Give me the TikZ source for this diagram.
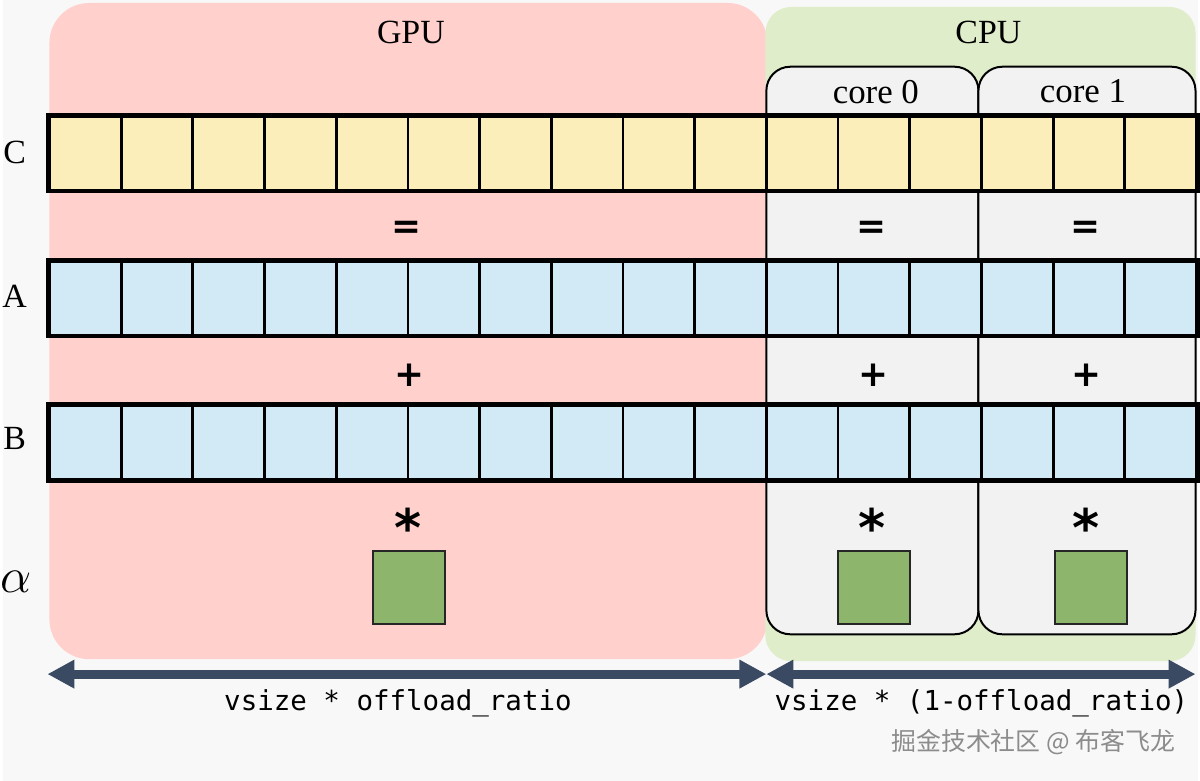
\documentclass[tikz,border=0pt]{standalone}
\usepackage{fontspec}
\setmainfont{Liberation Serif}
\newfontfamily\codefont{DejaVu Sans Mono}
\newfontfamily\opfont{DejaVu Sans}
\newfontfamily\cjkfont{Noto Sans CJK SC}
\usetikzlibrary{arrows.meta,positioning,calc}

\definecolor{pagegray}{HTML}{F8F8F8}
\definecolor{gpupink}{HTML}{FFD0CC}
\definecolor{cpugreen}{HTML}{DFEDCB}
\definecolor{coregray}{HTML}{F2F2F2}
\definecolor{vecyellow}{HTML}{FBEEBA}
\definecolor{vecblue}{HTML}{D1EAF5}
\definecolor{alphagreen}{HTML}{8DB56B}
\definecolor{spanblue}{HTML}{3A4A62}

\begin{document}
\begin{tikzpicture}[
  x=0.5pt, y=-0.5pt,
  corebox/.style={
    draw=black,
    fill=coregray,
    line width=1pt,
    rounded corners=12pt
  },
  cell/.style={
    draw=black,
    line width=1.4pt,
    minimum width=36pt,
    minimum height=37pt,
    inner sep=0pt
  },
  scalar/.style={
    draw=black!85,
    fill=alphagreen,
    line width=1pt,
    minimum width=36pt,
    minimum height=36.5pt,
    inner sep=0pt
  },
  title/.style={font=\fontsize{17}{19}\selectfont},
  corelabel/.style={font=\fontsize{17.5}{19}\selectfont},
  rowlabel/.style={font=\fontsize{17}{19}\selectfont, inner sep=0pt},
  op/.style={font=\opfont\bfseries\fontsize{18}{20}\selectfont, inner sep=0pt},
  star/.style={font=\opfont\bfseries\fontsize{26}{28}\selectfont, inner sep=0pt},
  sizelabel/.style={font=\codefont\fontsize{13.8}{15}\selectfont, inner sep=0pt},
  span/.style={
    {Triangle[length=13.5pt,width=13.5pt]}-{Triangle[length=13.5pt,width=13.5pt]},
    draw=spanblue, line width=4.5pt
  }
]

\fill[pagegray] (0,0) rectangle (1200,784);

% devices
\fill[gpupink, rounded corners=20pt] (47,3) rectangle (768,662);
\fill[cpugreen, rounded corners=13pt] (766,7) rectangle (1198,664);
\draw[corebox] (767,67) rectangle (980,637);
\draw[corebox] (980,67) rectangle (1198,637);

\node[title] (gpu) at (410,33) {GPU};
\node[title] (cpu) at (990,33) {CPU};
\node[corelabel] (core0) at (877,92) {core 0};
\node[corelabel] (core1) at (1085,92) {core 1};

% vectors C, A, B
\foreach \i in {1,...,16} {
  \node[cell, fill=vecyellow] (c\i) at ({47+72*(\i-0.5)},154) {};
  \node[cell, fill=vecblue] (a\i) at ({47+72*(\i-0.5)},299.5) {};
  \node[cell, fill=vecblue] (b\i) at ({47+72*(\i-0.5)},444.5) {};
}
\draw[line width=1.9pt] (c1.north west) rectangle (c16.south east);
\draw[line width=1.9pt] (a1.north west) rectangle (a16.south east);
\draw[line width=1.9pt] (b1.north west) rectangle (b16.south east);

\node[rowlabel] (labelC) at (12,153) {C};
\node[rowlabel] (labelA) at (12,298) {A};
\node[rowlabel] (labelB) at (12,440) {B};
\node[rowlabel, font=\fontsize{25}{27}\selectfont] (labelAlpha) at (13,584) {$\alpha$};

% operators
\node[op] (eqGpu) at (406,231) {=};
\node[op] (eqCore0) at (873,231) {=};
\node[op] (eqCore1) at (1088,231) {=};
\node[op] (plusGpu) at (409,377) {+};
\node[op] (plusCore0) at (875,377) {+};
\node[op] (plusCore1) at (1089,377) {+};
\node[star] (mulGpu) at (407,530) {*};
\node[star] (mulCore0) at (873,530) {*};
\node[star] (mulCore1) at (1088,530) {*};

% alpha
\node[scalar] (alphaGpu) at (408,590) {};
\node[scalar] (alphaCore0) at (875,590) {};
\node[scalar] (alphaCore1) at (1093,590) {};

% sizes
\coordinate (spanLeft) at (45,677);
\coordinate (spanSplit) at (767,677);
\coordinate (spanRight) at (1198,677);
\draw[span] (spanLeft) -- (spanSplit);
\draw[span] (spanSplit) -- (spanRight);

\node[sizelabel] (gpuSize) at (397,706) {vsize * offload\_ratio};
\node[sizelabel] (cpuSize) at (983,706) {vsize * (1-offload\_ratio)};

\node[font=\cjkfont\fontsize{12.5}{14}\selectfont, text=black!45] (mark) at (1035,745)
  {掘金技术社区 @ 布客飞龙};
\end{tikzpicture}
\end{document}
